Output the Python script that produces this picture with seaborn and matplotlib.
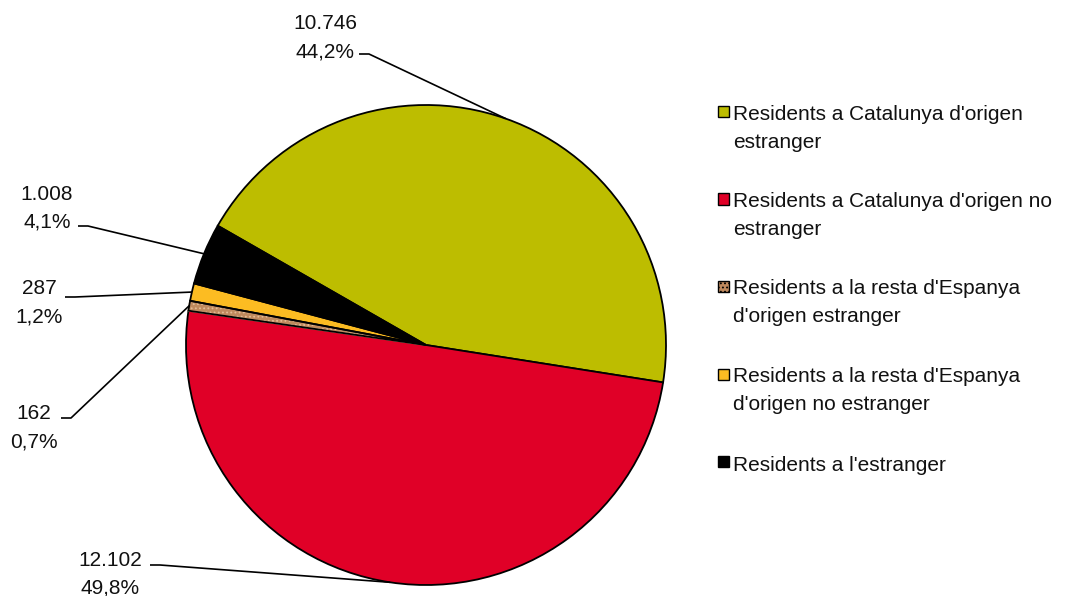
import matplotlib
matplotlib.use("Agg")
import matplotlib.pyplot as plt
import seaborn as sns
import numpy as np
from matplotlib.patches import Rectangle, Wedge

# ---- data ----
categories = [
    "Residents a Catalunya d'origen estranger",
    "Residents a Catalunya d'origen no estranger",
    "Residents a la resta d'Espanya d'origen estranger",
    "Residents a la resta d'Espanya d'origen no estranger",
    "Residents a l'estranger",
]
legend_labels = [
    "Residents a Catalunya d'origen\nestranger",
    "Residents a Catalunya d'origen no\nestranger",
    "Residents a la resta d'Espanya\nd'origen estranger",
    "Residents a la resta d'Espanya\nd'origen no estranger",
    "Residents a l'estranger",
]
values = [10746, 12102, 162, 287, 1008]
colors = ["#BDBD00", "#E00027", "#C08A5E", "#FCBC22", "#000000"]

# ---- style ----
sns.set_theme(style="white")
plt.rcParams["font.family"] = ["Liberation Sans", "DejaVu Sans"]
plt.rcParams["hatch.linewidth"] = 0.8

W, H = 1078, 596
FS = 15
LS = 1.6
LINE = 26.5  # baseline to baseline distance (px)
fig = plt.figure(figsize=(W / 100, H / 100), dpi=100)
fig.patch.set_facecolor("white")

CX, CY, R = 426, 345, 240
ax = fig.add_axes([(CX - R) / W, (H - CY - R) / H, 2 * R / W, 2 * R / H])
wedges, _ = ax.pie(values, colors=colors, startangle=150.2, counterclock=False,
                   radius=1, wedgeprops=dict(edgecolor="black", linewidth=1.3))
ax.set_xlim(-1, 1)
ax.set_ylim(-1, 1)
ax.axis("off")

# textured slice (brown)
bw = wedges[2]
bw.set_hatch("....")
bw.set_edgecolor("#E3BC96")
ax.add_patch(Wedge(bw.center, bw.r, bw.theta1, bw.theta2, fill=False,
                   edgecolor="black", linewidth=1.3))


def px2d(px, py):
    return (px - CX) / R, (CY - py) / R


total = sum(values)
# label layout in pixels: text right x, last-line baseline y, leader start x, leader y
label_layout = [
    (357, 57, 359, 54),
    (142, 594, 150, 565),
    (58, 447, 61, 418),
    (63, 322, 65, 297),
    (73, 228, 78, 226),
]
for w, v, (tx, ty, sx, sy) in zip(wedges, values, label_layout):
    num = f"{v:,}".replace(",", ".")
    pct = f"{v / total * 100:.1f}".replace(".", ",") + "%"
    fig.text(tx / W, 1 - ty / H, f"{num}\n{pct}", ha="right", va="baseline",
             multialignment="center", fontsize=FS, linespacing=LS, color="#111111")
    mid = np.deg2rad((w.theta1 + w.theta2) / 2)
    ex, ey = np.cos(mid) * w.r, np.sin(mid) * w.r
    x0, y0 = px2d(sx, sy)
    x1, y1 = px2d(sx + 10, sy)
    ax.plot([x0, x1, ex], [y0, y1, ey], color="black", lw=1.2, clip_on=False,
            solid_capstyle="butt")

# legend (manual so markers align with first line)
LX, LY0, DY = 717.5, 106, 87.5
for i, (lab, col) in enumerate(zip(legend_labels, colors)):
    y = LY0 + i * DY
    rect = Rectangle((LX / W, 1 - (y + 11) / H), 11 / W, 11 / H,
                     transform=fig.transFigure, facecolor=col,
                     edgecolor="black", linewidth=1.0)
    if i == 2:
        rect.set_hatch("....")
    fig.add_artist(rect)
    nlines = lab.count("\n")
    fig.text(733 / W, 1 - (y + 15 + nlines * LINE) / H, lab, ha="left", va="baseline",
             fontsize=FS, linespacing=LS, color="#111111")

fig.savefig("out.png", dpi=100, facecolor="white")
